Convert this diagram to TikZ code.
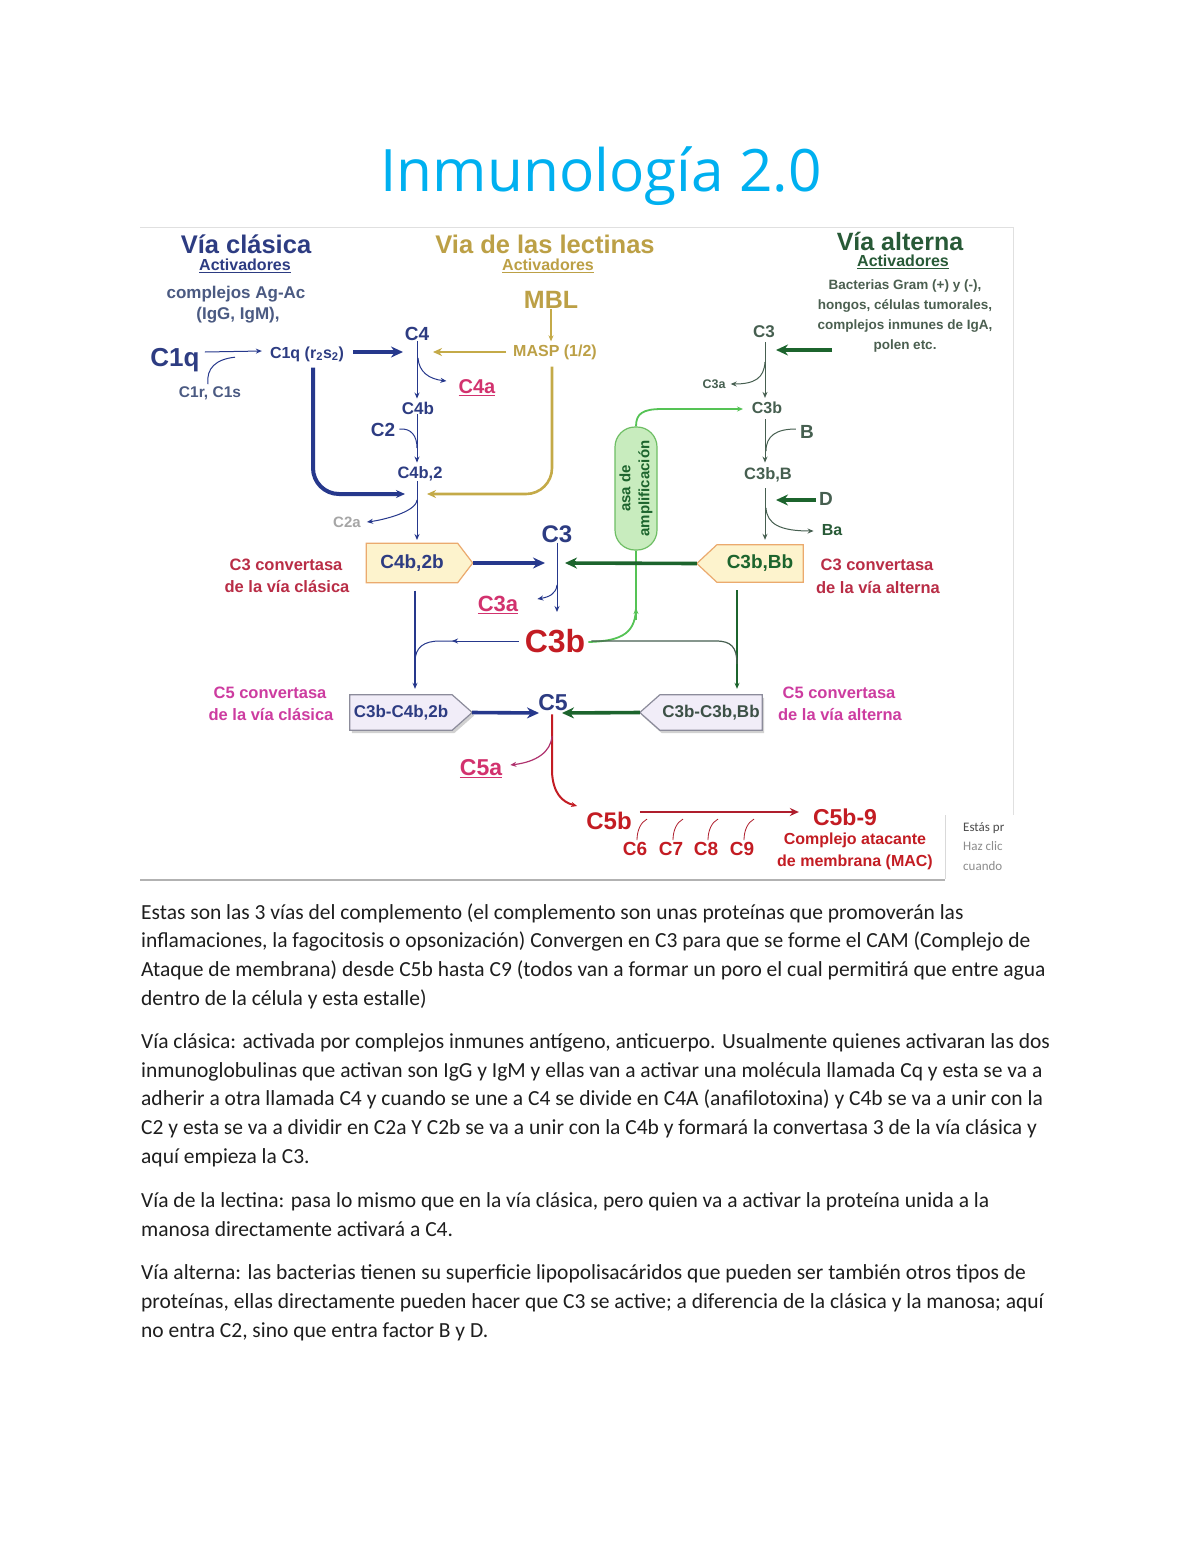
\documentclass[tikz,border=0pt]{standalone}
\usepackage{fontspec}
\setmainfont{Carlito}
\newfontfamily\dg{Liberation Sans}
\newfontfamily\tf{Open Sans}
\usetikzlibrary{arrows.meta,calc}
\pgfdeclarelayer{bg}
\pgfdeclarelayer{paper}
\pgfsetlayers{paper,bg,main}
\definecolor{navy}{RGB}{38,56,140}
\definecolor{navytxt}{RGB}{45,60,130}
\definecolor{gold}{RGB}{196,170,72}
\definecolor{goldtxt}{RGB}{188,160,70}
\definecolor{dgreen}{RGB}{28,100,45}
\definecolor{gtxt}{RGB}{40,90,55}
\definecolor{ggray}{RGB}{70,95,80}
\definecolor{boxgtxt}{RGB}{60,80,70}
\definecolor{bacttxt}{RGB}{75,95,80}
\definecolor{lgreen}{RGB}{85,195,85}
\definecolor{cred}{RGB}{195,28,35}
\definecolor{dred}{RGB}{175,30,45}
\definecolor{cpink}{RGB}{210,50,110}
\definecolor{cpurp}{RGB}{175,50,110}
\definecolor{cmag}{RGB}{205,60,160}
\definecolor{crp}{RGB}{185,45,70}
\definecolor{gblue}{RGB}{75,90,130}
\definecolor{bodytxt}{RGB}{30,30,30}
\definecolor{titleblue}{RGB}{0,176,240}
\definecolor{ylfill}{RGB}{253,243,205}
\definecolor{ylline}{RGB}{235,170,110}
\definecolor{lvfill}{RGB}{241,237,248}
\definecolor{lvline}{RGB}{140,140,155}
\definecolor{asafill}{RGB}{200,236,190}
\definecolor{asaline}{RGB}{110,190,100}
\newcommand\fs[1]{\fontsize{#1}{#1}\selectfont}
\newcommand\penR[3]{\draw[#3] (#1.north west) -- (#1.north east) -- ($(#1.east)+(#2,0)$) coordinate (#1tip) -- (#1.south east) -- (#1.south west) -- cycle;}
\newcommand\penL[3]{\draw[#3] (#1.north east) -- (#1.north west) -- ($(#1.west)+(-#2,0)$) coordinate (#1tip) -- (#1.south west) -- (#1.south east) -- cycle;}
\begin{document}
\begin{tikzpicture}[x=1pt,y=-1pt,
  lb/.style={inner sep=0pt, font=\dg\bfseries\fs{#1}},
  body/.style={anchor=base west, inner sep=0pt, align=left, text=bodytxt, font=\fontsize{21.5}{28.6}\selectfont},
  arr/.style={-{Stealth[length=6pt,width=5pt]}, line width=1pt},
  tharr/.style={-{Stealth[length=12pt,width=11pt]}, line width=3.6pt},
  mharr/.style={-{Stealth[length=9pt,width=8pt]}, line width=2.2pt},
  boxy/.style={fill=ylfill, draw=ylline, line width=1.2pt},
  boxl/.style={fill=lvfill, draw=lvline, line width=1.2pt},
  tickst/.style={dred, line width=0.8pt}]
\begin{pgfonlayer}{paper}
\fill[white] (0,0) rectangle (1200,1553);
\end{pgfonlayer}
\useasboundingbox (0,0) rectangle (1200,1553);

% title
\node[inner sep=0pt, text=titleblue, font=\tf\fontsize{58.5}{64}\selectfont] (title) at (601,176) {Inmunología 2.0};

% frame of the screenshot
\draw[black!12, line width=1pt] (140,227) -- (1013,227) -- (1013,815);
\draw[black!30, line width=2.5pt] (140,880) -- (945,880);
\draw[black!15, line width=0.8pt] (945,815) -- (945,879);
\begin{scope}
\clip (946,812) rectangle (1013,878);
\node[anchor=base west, inner sep=0pt, text=black!70, font=\fs{13}] (est) at (963,831) {Estás pr};
\node[anchor=base west, inner sep=0pt, text=black!45, font=\fs{13}] (haz) at (963,850) {Haz clic};
\node[anchor=base west, inner sep=0pt, text=black!45, font=\fs{13}] (cua) at (963,870) {cuando};
\end{scope}

% ---------- classical pathway ----------
\node[lb=25.5, text=navytxt] (vc) at (246,244) {Vía clásica};
\node[lb=16, text=navytxt] (vca) at (245,266) {\underline{Activadores}};
\node[lb=17, text=gblue] (cag) at (236,294) {complejos Ag-Ac};
\node[lb=17, text=gblue] (igg) at (238,315) {(IgG, IgM),};
\node[lb=26, text=navytxt] (c1q) at (175,360) {C1q};
\node[lb=15.5, text=gblue] (c1r) at (210,393) {C1r, C1s};
\node[lb=16, text=navytxt] (c1qr) at (307,354) {C1q (r\textsubscript{2}s\textsubscript{2})};
\node[lb=19, text=navytxt] (c4) at (417,334) {C4};
\node[lb=20, text=cpink] (c4a) at (477,388) {\underline{C4a}};
\node[lb=17, text=navytxt] (c4b) at (418,408) {C4b};
\node[lb=19, text=navytxt] (c2) at (383,430) {C2};
\node[lb=16.5, text=navytxt] (c4b2) at (420,474) {C4b,2};
\node[lb=15, text=black!35] (c2a) at (347,522) {C2a};

% lectin pathway
\node[lb=25.5, text=goldtxt] (vl) at (545,244) {Via de las lectinas};
\node[lb=16, text=goldtxt] (vla) at (548,266) {\underline{Activadores}};
\node[lb=25, text=goldtxt] (mbl) at (551,300) {MBL};
\node[lb=16, text=goldtxt] (masp) at (555,352) {MASP (1/2)};

\coordinate (cl) at (417,352);
\coordinate (gj) at (417,494);
\coordinate (vx) at (415,0);
\coordinate (vxa) at (737,0);
\coordinate (ax) at (765,0);

% classical connectors
\draw[navy, line width=1pt, -{Stealth[length=6pt,width=5pt]}] ($(c1q.east)+(5,-8)$) -- ($(c1qr.west)+(-8,-3)$);
\draw[navy, line width=1pt] ($(c1r.north)+(-2,-2)$) .. controls ($(c1r.north)+(-4,-18)$) and ($(c1r.north)+(6,-27)$) .. ($(c1r.north)+(25,-29)$);
\draw[navy, tharr] ($(c1qr.east |- cl)+(9,0)$) -- ($(cl)+(-14,0)$);
\draw[navy, arr] (c4.south) -- ($(c4.south |- c4b.north)+(0,-3)$);
\draw[navy, arr] ($(cl)+(1,6)$) .. controls ($(cl)+(2,20)$) and ($(cl)+(12,27)$) .. ($(c4a.west)+(-12,-7)$);
\draw[navy, arr] (c4.south |- c4b.south) -- ($(c4.south |- c4b2.north)+(0,-4)$);
\draw[navy, line width=1pt] ($(c2.east)+(4,-1)$) .. controls ($(c2.east)+(16,-2)$) and ($(c4.south |- c2.east)+(0,6)$) .. ($(c4.south |- c2.east)+(0,18)$);
\draw[navy, arr] (c4.south |- c4b2.south) -- ($(c4.south |- 0,540)$) coordinate (bxin);
\draw[navy, arr] ($(c4.south |- 0,500)$) .. controls ($(c4.south |- 0,512)+(-1,0)$) and ($(c2a.east)+(22,-2)$) .. ($(c2a.east)+(6,0)$);
\draw[navy, mharr, line width=4pt, rounded corners=26pt] ($(c1qr.south)+(6,6)$) |- ($(gj)+(-12,0)$);
% lectin connectors
\draw[gold, arr, line width=1.6pt] (mbl.south) -- ($(mbl.south |- masp.north)+(0,-3)$);
\draw[gold, mharr, line width=1.8pt] ($(masp.west |- cl)+(-7,0)$) -- ($(cl)+(16,0)$);
\draw[gold, mharr, line width=2.6pt, rounded corners=26pt] ($(masp.south)+(-3,7)$) |- ($(gj)+(10,0)$);

% C3 convertases
\node[lb=19, text=navytxt, minimum width=91pt, minimum height=39pt] (bx1) at (412,563) {C4b,2b};
\begin{pgfonlayer}{bg}\penR{bx1}{15}{boxy}\end{pgfonlayer}
\node[lb=16.5, text=crp] (cc1) at (286,565) {C3 convertasa};
\node[lb=16.5, text=crp] (cc1b) at (287,587) {de la vía clásica};
\node[lb=19, text=dgreen, minimum width=86pt, minimum height=37pt] (bx3) at (760,563.5) {C3b,Bb};
\begin{pgfonlayer}{bg}\penL{bx3}{20}{boxy}\end{pgfonlayer}
\node[lb=16.5, text=crp] (cc3) at (877,565) {C3 convertasa};
\node[lb=16.5, text=crp] (cc3b) at (878,588) {de la vía alterna};

\node[lb=24, text=navytxt] (c3) at (557,534) {C3};
\node[lb=22, text=cpink] (c3a) at (498,605) {\underline{C3a}};
\node[lb=32, text=cred] (c3b) at (555,641) {C3b};
\coordinate (cj) at (557,563);

% amplification loop
\node[text=dgreen, align=center, rotate=90, fill=asafill, draw=asaline, line width=1.2pt, rounded corners=20pt, minimum width=123pt, minimum height=42pt, inner sep=0pt, font=\dg\bfseries\fontsize{15}{19}\selectfont] (asa) at (636,488.5) {asa de\\amplificación};
\draw[lgreen, line width=1.8pt] ($(c3b.east)+(3,1)$) .. controls (624,641) and (636,632) .. (636,606) -- (asa.west);
\draw[lgreen, -{Stealth[length=6pt,width=5pt]}, line width=1.2pt] (636,620) -- (636,608);
\draw[lgreen, arr, line width=1.8pt] (asa.east) .. controls (636,414) and (642,409) .. (662,409) -- ($(ax |- 0,409)+(-22,0)$);

% C3 arrows
\draw[navy, tharr] (bx1tip) -- ($(cj)+(-12,0)$);
\draw[dgreen, tharr] (bx3tip) -- ($(cj)+(8,0)$);
\draw[navy, arr] (c3.south) -- (557,612);
\draw[navy, arr] (557,585) .. controls (556,594) and (549,597) .. ($(c3a.east)+(19,-6)$);

% C5 convertases
\node[lb=17, text=navytxt, minimum width=102pt, minimum height=35pt] (bx2) at (401,712.5) {C3b-C4b,2b};
\begin{pgfonlayer}{bg}
\fill[black!18] ($(bx2.north west)+(2,3)$) -- ($(bx2.north east)+(2,3)$) -- ($(bx2.east)+(22,3)$) -- ($(bx2.south east)+(2,3)$) -- ($(bx2.south west)+(2,3)$) -- cycle;
\penR{bx2}{20}{boxl}
\end{pgfonlayer}
\node[lb=16.5, text=cmag] (cc2) at (270,693) {C5 convertasa};
\node[lb=16.5, text=cmag] (cc2b) at (271,715) {de la vía clásica};
\node[lb=17, text=boxgtxt, minimum width=102pt, minimum height=35pt] (bx4) at (711,712.5) {C3b-C3b,Bb};
\begin{pgfonlayer}{bg}
\fill[black!18] ($(bx4.north west)+(2,3)$) -- ($(bx4.north east)+(2,3)$) -- ($(bx4.south east)+(2,3)$) -- ($(bx4.south west)+(2,3)$) -- ($(bx4.west)+(-18,3)$) -- cycle;
\penL{bx4}{20}{boxl}
\end{pgfonlayer}
\node[lb=16.5, text=cmag] (cc4) at (839,693) {C5 convertasa};
\node[lb=16.5, text=cmag] (cc4b) at (840,715) {de la vía alterna};
\node[lb=23, text=navytxt] (c5) at (553,703) {C5};
\coordinate (c5j) at (552,713);

% branches to C5 convertases
\draw[navy, arr, line width=1.4pt] ($(vx |- bx1.south)+(0,8)$) -- ($(vx |- bx2.north)+(0,-6)$);
\draw[navy, arr] ($(c3b.west)+(-6,0)$) -- (452,641);
\draw[navy, line width=1pt] (455,641) -- (440,641) .. controls (424,641) and (415,647) .. (415,662);
\draw[dgreen, arr, line width=1.4pt] ($(vxa |- bx3.south)+(0,8)$) -- ($(vxa |- bx4.north)+(0,-6)$);
\draw[ggray, line width=1.2pt] ($(c3b.east)+(6,0)$) -- (716,641) .. controls (731,641) and (737,647) .. (737,664);
\draw[navy, tharr] (bx2tip) -- ($(c5j)+(-13,0)$);
\draw[dgreen, tharr] (bx4tip) -- ($(c5j)+(10,0)$);

% ---------- alternative pathway ----------
\node[lb=25, text=gtxt] (va) at (900,241) {Vía alterna};
\node[lb=16, text=gtxt] (vaa) at (903,262) {\underline{Activadores}};
\node[inner sep=0pt, align=center, text=bacttxt, font=\dg\bfseries\fontsize{13.5}{19.7}\selectfont] (bact) at (905,316) {Bacterias Gram (+) y (-),\\hongos, células tumorales,\\complejos inmunes de IgA,\\polen etc.};
\node[lb=17, text=ggray] (ac3) at (764,332) {C3};
\node[lb=12.5, text=ggray] (ac3a) at (714,384) {C3a};
\node[lb=16, text=ggray] (ac3b) at (767,408) {C3b};
\node[lb=19, text=ggray] (bB) at (807,432) {B};
\node[lb=16.5, text=ggray] (ac3bB) at (768,475) {C3b,B};
\node[lb=19, text=ggray] (dD) at (826,499) {D};
\node[lb=16, text=gtxt] (ba) at (832,530) {Ba};
\coordinate (actin) at (832,350);

\draw[ggray, arr] ($(ax |- ac3.south)+(0,4)$) -- ($(ax |- ac3b.north)+(0,-4)$);
\draw[dgreen, tharr, line width=3.4pt] (actin) -- (776,350);
\draw[ggray, arr] (765,362) .. controls (764,378) and (755,384) .. ($(ac3a.east)+(5,0)$);
\draw[ggray, arr] ($(ax |- ac3b.south)+(0,5)$) -- ($(ax |- ac3bB.north)+(0,-5)$);
\draw[ggray, line width=1pt] ($(bB.west)+(-4,-3)$) .. controls (776,429) and (766,436) .. (766,451);
\draw[ggray, arr] ($(ax |- ac3bB.south)+(0,6)$) -- ($(ax |- bx3.north)+(0,-5)$);
\draw[dgreen, tharr, line width=3.4pt] ($(dD.west)+(-3,1)$) -- (776,500);
\draw[ggray, arr] (766,508) .. controls (767,524) and (780,531) .. ($(ba.west)+(-8,1)$);

% ---------- terminal pathway ----------
\node[lb=23, text=cpink] (c5a) at (481,769) {\underline{C5a}};
\node[lb=24, text=cred] (c5b) at (609,821) {C5b};
\node[lb=23, text=cred] (c5b9) at (845,817) {C5b-9};
\node[lb=19, text=cred] (c6) at (635,849) {C6};
\node[lb=19, text=cred] (c7) at (671,849) {C7};
\node[lb=19, text=cred] (c8) at (706,849) {C8};
\node[lb=19, text=cred] (c9) at (742,849) {C9};
\node[inner sep=0pt, align=center, text=cred, font=\dg\bfseries\fontsize{16}{22}\selectfont] (mac) at (855,851) {Complejo atacante\\de membrana (MAC)};

\draw[cred, arr, line width=2pt] ($(c5.south)+(-1,3)$) -- (552,772) .. controls (553,793) and (562,802) .. ($(c5b.north west)+(-9,-6)$);
\draw[cpurp, arr, line width=1.2pt] (552,736) .. controls (551,752) and (536,762) .. ($(c5a.east)+(8,-4)$);
\draw[dred, mharr, line width=2.6pt] ($(c5b.east)+(8,-9)$) -- ($(c5b9.west)+(-14,-5)$);
\foreach \c in {c6,c7,c8,c9}{
  \draw[tickst] ($(\c.north)+(2,-2)$) .. controls ($(\c.north)+(2,-12)$) and ($(\c.north)+(6,-20)$) .. ($(\c.north)+(12,-23)$);
}

% ---------- body text (anchored at last baseline) ----------
\node[body] (p1) at (141,1005) {Estas son las 3 vías del complemento (el complemento son unas proteínas que promoverán las\\inflamaciones, la fagocitosis o opsonización) Convergen en C3 para que se forme el CAM (Complejo de\\Ataque de membrana) desde C5b hasta C9 (todos van a formar un poro el cual permitirá que entre agua\\dentro de la célula y esta estalle)};
\node[body] (p2) at (141,1163) {Vía clásica: activada por complejos inmunes antígeno, anticuerpo. Usualmente quienes activaran las dos\\inmunoglobulinas que activan son IgG y IgM y ellas van a activar una molécula llamada Cq y esta se va a\\adherir a otra llamada C4 y cuando se une a C4 se divide en C4A (anafilotoxina) y C4b se va a unir con la\\C2 y esta se va a dividir en C2a Y C2b se va a unir con la C4b y formará la convertasa 3 de la vía clásica y\\aquí empieza la C3.};
\node[body] (p3) at (141,1236) {Vía de la lectina: pasa lo mismo que en la vía clásica, pero quien va a activar la proteína unida a la\\manosa directamente activará a C4.};
\node[body] (p4) at (141,1337) {Vía alterna: las bacterias tienen su superficie lipopolisacáridos que pueden ser también otros tipos de\\proteínas, ellas directamente pueden hacer que C3 se active; a diferencia de la clásica y la manosa; aquí\\no entra C2, sino que entra factor B y D.};
\end{tikzpicture}
\end{document}
